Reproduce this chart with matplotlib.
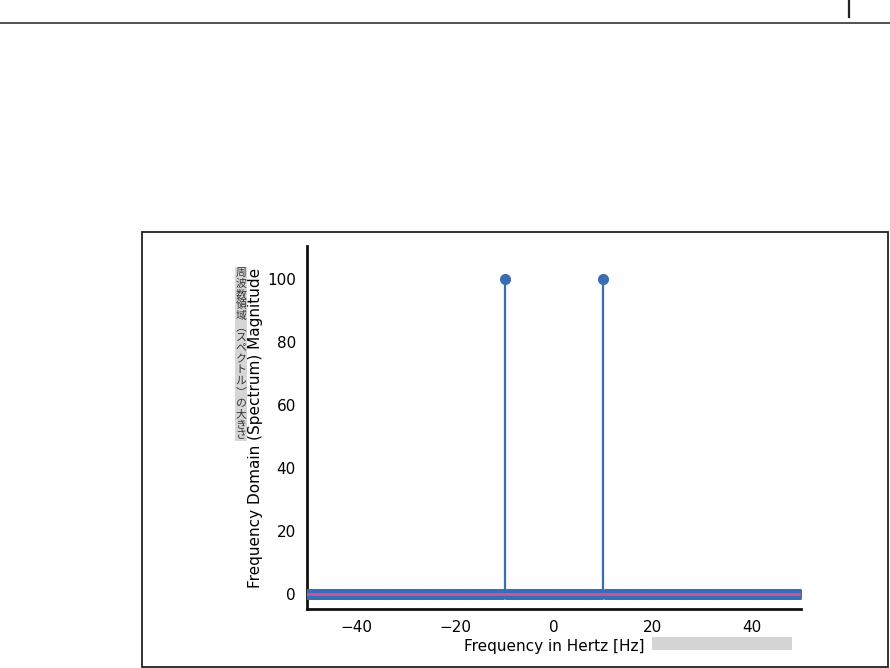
import matplotlib
matplotlib.use("Agg")
import matplotlib.pyplot as plt
from matplotlib.patches import Rectangle
from matplotlib.lines import Line2D

plt.rcParams["font.family"] = ["DejaVu Sans"]

W, H = 890, 668

# spectrum of 200 samples at 100 Hz: bins every 0.5 Hz, two peaks at +-10 Hz
freqs = [k / 2 for k in range(-100, 100)]
peak_freqs = [-10, 10]
peak_vals = [100, 100]
magnitude = [peak_vals[peak_freqs.index(f)] if f in peak_freqs else 0 for f in freqs]

xticks = [-40, -20, 0, 20, 40]
yticks = [0, 20, 40, 60, 80, 100]
xlabel = "Frequency in Hertz [Hz]"
ylabel = "Frequency Domain (Spectrum) Magnitude"
ylabel_jp = "周波数領域︵スペクトル︶の大きさ"

blue = "#3a6db3"
pink = "#c9559e"


def fx(px):
    return px / W


def fy(py):
    return 1 - py / H


fig = plt.figure(figsize=(W / 100, H / 100), dpi=100)

# page header rule and small mark
fig.add_artist(Line2D([0, 1], [fy(23), fy(23)], color="#222222", lw=1.1))
fig.add_artist(Line2D([fx(849), fx(849)], [fy(1), fy(17)], color="#222222", lw=1.6))

# frame around the figure
fig.add_artist(Rectangle((fx(142), fy(667)), fx(888) - fx(142), fy(232) - fy(667),
                         fill=False, edgecolor="#222222", lw=1.3))

ax = fig.add_axes([fx(307), fy(609), fx(801) - fx(307), fy(246) - fy(609)])

markerline, stemlines, baseline = ax.stem(freqs, magnitude)
markerline.set_color(blue)
markerline.set_markersize(7)
stemlines.set_color(blue)
stemlines.set_linewidth(1.6)
baseline.set_color(pink)
baseline.set_linewidth(2)
baseline.set_zorder(4)
markerline.set_zorder(3)

ax.set_xlim(-50, 50)
ax.set_ylim(-4.8, 110.5)
ax.set_xticks(xticks)
ax.set_yticks(yticks)
ax.tick_params(length=0, labelsize=11, pad=8)
for s in ["top", "right"]:
    ax.spines[s].set_visible(False)
for s in ["left", "bottom"]:
    ax.spines[s].set_linewidth(2)
    ax.spines[s].set_color("#111111")

ax.set_xlabel(xlabel, fontsize=11, labelpad=3)
ax.set_ylabel(ylabel, fontsize=11, labelpad=3)

# grey redaction box after the x label
fig.add_artist(Rectangle((fx(652), fy(650)), fx(792) - fx(652), fy(637) - fy(650),
                         facecolor="#d4d4d4", edgecolor="none"))

# vertical japanese label, one character under the other, grey background
fig.add_artist(Rectangle((fx(235), fy(441)), fx(247) - fx(235), fy(267) - fy(441),
                         facecolor="#d6d6d6", edgecolor="none"))
pitch = (441 - 267) / len(ylabel_jp)
for i, ch in enumerate(ylabel_jp):
    fig.text(fx(241), fy(267 + pitch * (i + 0.5)), ch, ha="center", va="center",
             fontsize=7.8, family=["Noto Sans CJK JP", "DejaVu Sans"], color="#333333")

fig.savefig("out.png", dpi=100)
